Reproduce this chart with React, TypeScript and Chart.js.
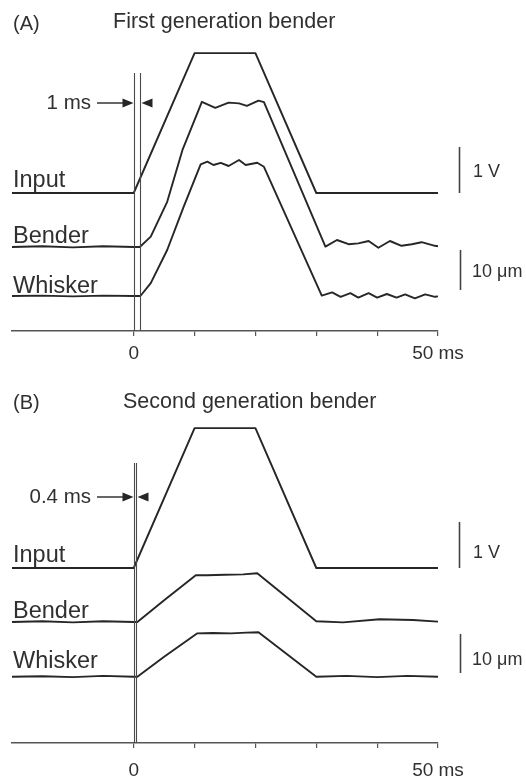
import { useEffect, useRef } from 'react';
import { Chart, registerables } from 'chart.js';

Chart.register(...registerables);

const FONT = '"Liberation Sans", Arial, Helvetica, sans-serif';
const INK = '#262626';
const TEXT = '#303030';
const AXIS = '#555555';

// ---------- Data (time in ms, Input in V, Bender / Whisker in µm) ----------
const xTicks = [0, 10, 20, 30, 40, 50];
const xTickLabels = ['0', '', '', '', '', '50 ms'];

// Panel A – first generation bender
const inputA_t = [-20, 0, 10, 20, 30, 50];
const inputA_v = [0, 0, 3.04, 3.04, 0, 0];

const benderA_t = [-20, -15, -10, -5, 0, 1.0, 2.8, 5.5, 8.0, 11.2, 13.4, 15.6, 17.3, 18.6, 20.5, 21.4, 31.5, 33.4, 35.3, 36.9, 38.6, 40.2, 42.1, 44.0, 45.7, 47.3, 49.5, 50];
const benderA_v = [0, 0.2, -0.1, 0.2, 0, 0, 2.6, 11.3, 24.2, 36.3, 34.8, 36.1, 35.9, 35.3, 36.6, 36.2, 0.1, 1.75, 0.7, 0.9, 1.5, -0.2, 1.5, 0.3, 0.7, 1.2, 0.3, 0.2];

const whiskerA_t = [-20, -15, -10, -5, 0, 1.1, 2.8, 5.5, 8.2, 11.0, 12.1, 13.1, 14.3, 15.6, 17.3, 18.4, 20.3, 21.4, 30.9, 32.6, 34.0, 35.6, 36.9, 38.6, 40.0, 41.6, 43.2, 44.6, 46.2, 47.9, 49.5, 50];
const whiskerA_v = [0, 0.1, -0.1, 0.1, 0, 0, 3.2, 11.5, 22.3, 32.9, 33.6, 32.75, 33.3, 32.5, 34.0, 32.75, 33.3, 32.3, 0.1, 0.9, -0.2, 0.7, -0.4, 0.7, -0.4, 0.5, -0.4, 0.4, -0.6, 0.4, -0.2, -0.1];

const markersA = [0, 1];

// Panel B – second generation bender
const inputB_t = [-20, 0, 10, 20, 30, 50];
const inputB_v = [0, 0, 3.04, 3.04, 0, 0];

const benderB_t = [-20, -15, -10, -5, 0, 0.6, 5.0, 10.2, 12, 15, 18, 20.3, 30.0, 34.4, 40.4, 45.9, 50];
const benderB_v = [0, 0.2, -0.1, 0.2, 0, 0, 5.6, 12.0, 12.0, 12.1, 12.2, 12.5, 0.2, -0.1, 0.7, 0.5, 0.1];

const whiskerB_t = [-20, -15, -10, -5, 0, 0.6, 5.0, 10.4, 13, 16, 18.5, 20.5, 30.0, 35, 40, 45, 50];
const whiskerB_v = [0, 0.1, -0.1, 0.2, 0, 0, 5.1, 11.1, 11.2, 11.1, 11.3, 11.4, 0, 0.2, -0.1, 0.2, 0];

const markersB = [0, 0.4];

// ---------- Layout specs (canvas pixel coordinates) ----------
type Panel = {
  height: number;
  top: number;
  bottom: number;
  tickPad: number;
  inBase: number; inK: number;
  beBase: number; beK: number;
  whBase: number; whK: number;
  tag: string; tagX: number; tagY: number;
  title: string; titleX: number; titleY: number;
  labelBase: [number, number, number];
  markers: number[]; markerTop: number;
  arrowY: number; arrowText: string; arrowTextY: number;
  barVY: number; barUmFrom: number; barUmY: number;
  series: { t: number[]; v: number[]; axis: string }[];
};

const panelA: Panel = {
  height: 380, top: 40, bottom: 331, tickPad: 6,
  inBase: 193, inK: 46, beBase: 247, beK: 4, whBase: 296, whK: 4,
  tag: '(A)', tagX: 13, tagY: 30,
  title: 'First generation bender', titleX: 113, titleY: 27.5,
  labelBase: [186.5, 242.7, 292.7],
  markers: markersA, markerTop: 73,
  arrowY: 103, arrowText: '1 ms', arrowTextY: 108.5,
  barVY: 176.7, barUmFrom: 1.5, barUmY: 276.7,
  series: [
    { t: inputA_t, v: inputA_v, axis: 'yIn' },
    { t: benderA_t, v: benderA_v, axis: 'yBe' },
    { t: whiskerA_t, v: whiskerA_v, axis: 'yWh' },
  ],
};

const panelB: Panel = {
  height: 398, top: 40, bottom: 363, tickPad: 11,
  inBase: 188, inK: 46, beBase: 242, beK: 3.9, whBase: 296.7, whK: 3.9,
  tag: '(B)', tagX: 13, tagY: 29,
  title: 'Second generation bender', titleX: 123, titleY: 28.3,
  labelBase: [181.7, 238.3, 288.3],
  markers: markersB, markerTop: 83,
  arrowY: 117, arrowText: '0.4 ms', arrowTextY: 123.3,
  barVY: 178.3, barUmFrom: 0.95, barUmY: 285,
  series: [
    { t: inputB_t, v: inputB_v, axis: 'yIn' },
    { t: benderB_t, v: benderB_v, axis: 'yBe' },
    { t: whiskerB_t, v: whiskerB_v, axis: 'yWh' },
  ],
};

const traceNames = ['Input', 'Bender', 'Whisker'];

function range(base: number, k: number, top: number, bottom: number) {
  return { min: (base - bottom) / k, max: (base - top) / k };
}

function makeChart(canvas: HTMLCanvasElement, p: Panel) {
  const annotate = {
    id: 'annotate',
    afterDraw(chart: any) {
      const ctx = chart.ctx as CanvasRenderingContext2D;
      const xs = chart.scales.x;
      const yIn = chart.scales.yIn;
      const yWh = chart.scales.yWh;
      const axisY = chart.chartArea.bottom;
      ctx.save();
      // marker lines
      ctx.strokeStyle = '#4a4a4a';
      ctx.lineWidth = 1.1;
      const mx = p.markers.map((m) => xs.getPixelForValue(m));
      mx.forEach((x) => {
        ctx.beginPath();
        ctx.moveTo(Math.round(x) + 0.5, p.markerTop);
        ctx.lineTo(Math.round(x) + 0.5, axisY);
        ctx.stroke();
      });
      // arrows
      const a0 = Math.round(mx[0]) - 0.5;
      const a1 = Math.round(mx[1]) + 1.5;
      ctx.strokeStyle = INK;
      ctx.fillStyle = INK;
      ctx.lineWidth = 1.4;
      ctx.beginPath();
      ctx.moveTo(97, p.arrowY);
      ctx.lineTo(a0 - 6, p.arrowY);
      ctx.stroke();
      ctx.beginPath();
      ctx.moveTo(a0, p.arrowY);
      ctx.lineTo(a0 - 11, p.arrowY - 4.5);
      ctx.lineTo(a0 - 11, p.arrowY + 4.5);
      ctx.closePath();
      ctx.fill();
      ctx.beginPath();
      ctx.moveTo(a1, p.arrowY);
      ctx.lineTo(a1 + 11, p.arrowY - 4.5);
      ctx.lineTo(a1 + 11, p.arrowY + 4.5);
      ctx.closePath();
      ctx.fill();
      // scale bars
      ctx.strokeStyle = '#444';
      ctx.lineWidth = 1.6;
      ctx.beginPath();
      ctx.moveTo(459.5, yIn.getPixelForValue(0));
      ctx.lineTo(459.5, yIn.getPixelForValue(1));
      ctx.stroke();
      ctx.beginPath();
      ctx.moveTo(460.5, yWh.getPixelForValue(p.barUmFrom));
      ctx.lineTo(460.5, yWh.getPixelForValue(p.barUmFrom + 10));
      ctx.stroke();
      // texts
      ctx.fillStyle = TEXT;
      ctx.textBaseline = 'alphabetic';
      ctx.textAlign = 'left';
      ctx.font = `20px ${FONT}`;
      ctx.fillText(p.tag, p.tagX, p.tagY);
      ctx.font = `21.5px ${FONT}`;
      ctx.fillText(p.title, p.titleX, p.titleY);
      ctx.font = `23.5px ${FONT}`;
      traceNames.forEach((n, i) => ctx.fillText(n, 13, p.labelBase[i]));
      ctx.font = `18px ${FONT}`;
      ctx.fillText('1 V', 473, p.barVY);
      ctx.fillText('10 \u03bcm', 472, p.barUmY);
      ctx.font = `20.5px ${FONT}`;
      ctx.textAlign = 'right';
      ctx.fillText(p.arrowText, 91, p.arrowTextY);
      ctx.restore();
    },
  };

  return new Chart(canvas, {
    type: 'line',
    data: {
      datasets: p.series.map((s, i) => ({
        label: traceNames[i],
        data: s.t.map((t, j) => ({ x: t, y: s.v[j] })),
        yAxisID: s.axis,
        borderColor: INK,
        borderWidth: 1.9,
        borderJoinStyle: 'round',
        pointRadius: 0,
        tension: 0,
        fill: false,
      })),
    },
    options: {
      responsive: false,
      animation: false,
      events: [],
      layout: { padding: { left: 12, right: 88, top: p.top, bottom: 0 } },
      plugins: { legend: { display: false }, tooltip: { enabled: false } },
      scales: {
        x: {
          type: 'linear',
          position: 'bottom',
          min: -20,
          max: 50,
          afterFit: (s: any) => { s.height = p.height - p.bottom; },
          afterBuildTicks: (s: any) => { s.ticks = xTicks.map((v) => ({ value: v })); },
          border: { display: true, color: AXIS, width: 1.6 },
          grid: { drawOnChartArea: false, drawTicks: true, tickLength: 5, color: AXIS, lineWidth: 1.2 },
          ticks: {
            autoSkip: false,
            maxRotation: 0,
            padding: p.tickPad,
            color: TEXT,
            font: { family: FONT, size: 19 },
            callback: (v: any) => {
              const i = xTicks.indexOf(Number(v));
              return i >= 0 ? xTickLabels[i] : '';
            },
          },
        },
        yIn: { type: 'linear', display: false, ...range(p.inBase, p.inK, p.top, p.bottom) },
        yBe: { type: 'linear', display: false, ...range(p.beBase, p.beK, p.top, p.bottom) },
        yWh: { type: 'linear', display: false, ...range(p.whBase, p.whK, p.top, p.bottom) },
      },
    } as any,
    plugins: [annotate],
  } as any);
}

export default function App() {
  const refA = useRef<HTMLCanvasElement>(null);
  const refB = useRef<HTMLCanvasElement>(null);
  useEffect(() => {
    const a = makeChart(refA.current!, panelA);
    const b = makeChart(refB.current!, panelB);
    return () => {
      a.destroy();
      b.destroy();
    };
  }, []);
  return (
    <div style={{ position: 'absolute', left: 0, top: 0, width: 526, height: 778, background: '#fff', overflow: 'hidden' }}>
      <canvas ref={refA} width={526} height={panelA.height} style={{ position: 'absolute', left: 0, top: 0, display: 'block' }} />
      <canvas ref={refB} width={526} height={panelB.height} style={{ position: 'absolute', left: 0, top: 380, display: 'block' }} />
    </div>
  );
}
